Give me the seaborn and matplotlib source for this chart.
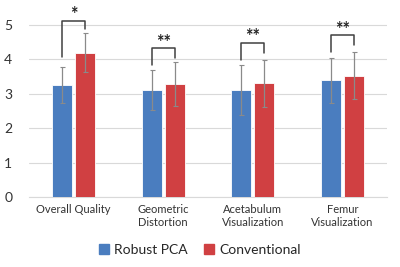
import pandas as pd
import numpy as np
import matplotlib
matplotlib.use('Agg')
import matplotlib.pyplot as plt
import seaborn as sns

# Data
categories = ['Overall Quality', 'Geometric\nDistortion', 'Acetabulum\nVisualization', 'Femur\nVisualization']
methods = ['Robust PCA', 'Conventional']
robust_mean = [3.25, 3.11, 3.11, 3.39]
robust_err = [0.52, 0.59, 0.73, 0.66]
conv_mean = [4.20, 3.28, 3.30, 3.53]
conv_err = [0.56, 0.63, 0.69, 0.69]
stars = ['*', '**', '**', '**']
bracket_top = [5.13, 4.32, 4.49, 4.71]
bracket_left = [4.08, 3.84, 3.98, 4.22]
bracket_right = [4.87, 4.03, 4.18, 4.42]

colors = ['#4A7DBF', '#D04042']

data = pd.DataFrame({
    'category': categories * 2,
    'method': [methods[0]] * 4 + [methods[1]] * 4,
    'score': robust_mean + conv_mean,
    'err': robust_err + conv_err,
})

sns.set_style('white')
plt.rcParams['font.family'] = ['Lato', 'DejaVu Sans']

fig = plt.figure(figsize=(4, 2.67), dpi=100)
ax = fig.add_axes([0.0725, 0.262, 0.895, 0.696])

sns.barplot(data=data, x='category', y='score', hue='method', palette=colors,
            saturation=1, width=0.514, gap=0.14, errorbar=None, edgecolor='white',
            linewidth=0.6, ax=ax, legend=False, zorder=3)

# error bars at bar centres
centers = {}
for i, m in enumerate(methods):
    cont = ax.containers[i]
    xs = [p.get_x() + p.get_width() / 2 for p in cont.patches]
    centers[m] = xs
    sub = data[data['method'] == m]
    ax.errorbar(xs, sub['score'], yerr=sub['err'], fmt='none', ecolor='#8a8a8a',
                elinewidth=0.9, capsize=1.8, capthick=0.8, zorder=4)

# significance brackets
for j in range(len(categories)):
    xl = centers[methods[0]][j]
    xr = centers[methods[1]][j]
    ax.plot([xl, xl, xr, xr], [bracket_left[j], bracket_top[j], bracket_top[j], bracket_right[j]],
            color='#404040', lw=1.1, zorder=5, clip_on=False)
    ax.text((xl + xr) / 2, bracket_top[j] - 0.08, stars[j], ha='center', va='bottom',
            fontsize=13, color='#222222', fontweight='bold')

ax.set_ylim(0, 5.4)
ax.set_xlim(-0.5, 3.5)
ax.set_yticks([0, 1, 2, 3, 4, 5])
ax.yaxis.grid(True, color='#d9d9d9', lw=0.8, zorder=0)
ax.set_axisbelow(True)
for s in ['top', 'right', 'left']:
    ax.spines[s].set_visible(False)
ax.spines['bottom'].set_color('#d9d9d9')
ax.tick_params(axis='both', length=0, colors='#333333')
ax.tick_params(axis='y', labelsize=10, pad=12)
ax.tick_params(axis='x', labelsize=8, pad=5)
ax.set_xlabel('')
ax.set_ylabel('')

handles = [plt.Rectangle((0, 0), 1, 1, color=c) for c in colors]
fig.legend(handles, methods, loc='center', bbox_to_anchor=(0.5, 0.064), ncol=2,
           frameon=False, fontsize=10, handlelength=0.7, handleheight=0.7,
           handletextpad=0.4, columnspacing=1.2)

fig.savefig('out.png', dpi=100)
